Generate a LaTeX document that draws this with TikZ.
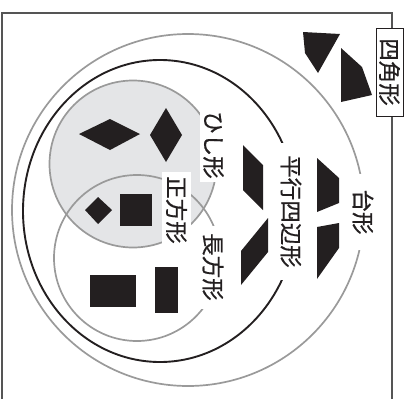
\documentclass[tikz,border=0pt]{standalone}
\usepackage{fontspec}
\newfontfamily\jp[FakeBold=0.6]{Noto Sans CJK JP}
\definecolor{ink}{HTML}{231F20}
\definecolor{ringcol}{HTML}{9A9A9A}
\definecolor{shadecol}{HTML}{E4E5E7}
\definecolor{framecol}{HTML}{555555}
\begin{document}
\begin{tikzpicture}[x=1pt,y=-1pt,
  ringline/.style={draw=ringcol,line width=1.7pt},
  blackline/.style={draw=ink,line width=1.9pt},
  shp/.style={fill=ink,draw=none},
  lbl/.style={font=\jp\fontsize{22.5}{22.5}\selectfont,rotate=-90,fill=white,inner sep=0pt,text=ink},
]
\useasboundingbox (0,0) rectangle (410,399);
% frame (open at bottom)
\draw[framecol,line width=1.3pt] (2,405) -- (2,13) -- (392,13) -- (392,405);
% shaded rhombus set
\fill[shadecol] (133,164) circle[radius=83.5];
% outer trapezoid set
\draw[ringline] (188,210) circle[radius=176];
% parallelogram set
\draw[blackline] (160,211) ellipse[x radius=137,y radius=151];
% rhombus and rectangle sets
\draw[ringline] (133,164) circle[radius=83.5];
\draw[ringline] (137,258) circle[radius=83];
% general quadrilaterals
\fill[shp] (303,32) -- (340,34) -- (318,73) -- (305,53) -- cycle;
\fill[shp] (341,48) -- (362,67) -- (372,95) -- (341,102) -- cycle;
% trapezoids
\fill[shp] (317,158) -- (339,178) -- (339,203) -- (317,212) -- cycle;
\fill[shp] (317,227) -- (339,223) -- (339,248) -- (317,279) -- cycle;
% parallelograms
\fill[shp] (243,145) -- (263,165) -- (263,210) -- (243,190) -- cycle;
\fill[shp] (268,218) -- (268,252) -- (241,285) -- (241,251) -- cycle;
% rhombi
\fill[shp] (79,134) -- (110,119) -- (140,134) -- (110,150) -- cycle;
\fill[shp] (166,108) -- (182,135) -- (166,162) -- (150,135) -- cycle;
% squares
\fill[shp] (85,210) -- (98,197) -- (112,210) -- (98,224) -- cycle;
\fill[shp] (120,194) rectangle (152,226);
% rectangles
\fill[shp] (90,275) rectangle (136,307);
\fill[shp] (155,267) rectangle (178,313);
% labels
\node[lbl,minimum width=74pt,minimum height=27pt] (hishi) at (213.5,145) {ひし形};
\node[lbl,minimum width=76pt,minimum height=29pt] (seiho) at (176.5,210) {正方形};
\node[lbl,minimum width=83pt,minimum height=30pt] (choho) at (213,267) {長方形};
\node[lbl,minimum width=137pt,minimum height=26pt] (heiko) at (291,211.5) {平行四辺形};
\node[lbl,minimum width=76pt,minimum height=24pt] (daikei) at (363,212) {台形};
\node[lbl,draw=ink,line width=0.9pt,minimum width=88pt,minimum height=27pt] (shikaku) at (389.5,72) {四角形};
\end{tikzpicture}
\end{document}
